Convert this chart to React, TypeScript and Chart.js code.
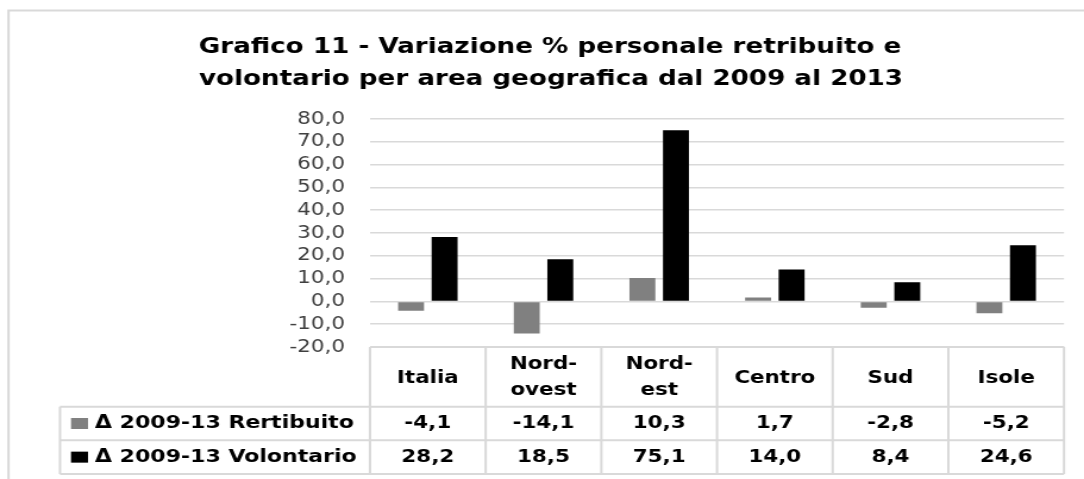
import React, { useEffect, useRef } from 'react';
import { Chart, registerables } from 'chart.js';

Chart.register(...registerables);

// ---- data ----
const categories: string[][] = [['Italia'], ['Nord-', 'ovest'], ['Nord-', 'est'], ['Centro'], ['Sud'], ['Isole']];
const retribuito: number[] = [-4.1, -14.1, 10.3, 1.7, -2.8, -5.2];
const volontario: number[] = [28.2, 18.5, 75.1, 14.0, 8.4, 24.6];
const seriesNames: string[] = ['Δ 2009-13 Rertibuito', 'Δ 2009-13 Volontario'];
const seriesColors: string[] = ['#808080', '#000000'];
const titleLines: string[] = [
  'Grafico 11 - Variazione % personale retribuito e',
  'volontario per area geografica dal 2009 al 2013',
];
const yMin = -20;
const yMax = 80;
const yStep = 10;

// ---- layout (the reference text is horizontally stretched) ----
const W = 911;
const H = 479;
const S = 1084 / W;
const X = (t: number) => t / S;
const fmt = (v: number) => v.toFixed(1).replace('.', ',');
const FONT = '"DejaVu Sans", sans-serif';
const LINE = '#d9d9d9';

const decorPlugin = {
  id: 'decor',
  beforeDraw(chart: any) {
    const ctx = chart.ctx;
    ctx.save();
    ctx.fillStyle = '#ffffff';
    ctx.fillRect(0, 0, chart.width, chart.height);
    ctx.strokeStyle = LINE;
    ctx.lineWidth = 2;
    ctx.strokeRect(X(8.5), 10.5, chart.width + 20, chart.height + 20);
    ctx.restore();
  },
  afterDraw(chart: any) {
    const ctx = chart.ctx;
    const xs = chart.scales.x;
    const area = chart.chartArea;
    const labels = chart.data.labels as string[][];
    const n = labels.length;
    const p0 = xs.getPixelForValue(0);
    const step = xs.getPixelForValue(1) - p0;
    const bounds: number[] = [];
    for (let i = 0; i <= n; i++) bounds.push(p0 + (i - 0.5) * step);

    const top = area.bottom;
    const r1 = 406.7;
    const r2 = 440.3;
    const r3 = 474;
    const legLeft = X(60);

    ctx.save();
    // title
    ctx.fillStyle = '#000000';
    ctx.font = `bold 22px ${FONT}`;
    ctx.textAlign = 'center';
    ctx.textBaseline = 'alphabetic';
    ctx.fillText(titleLines[0], X(550), 53);
    ctx.fillText(titleLines[1], X(551), 85);

    // table lines
    ctx.strokeStyle = LINE;
    ctx.lineWidth = 2;
    ctx.beginPath();
    ctx.moveTo(bounds[0], top);
    ctx.lineTo(bounds[n], top);
    for (const y of [r1, r2, r3]) {
      ctx.moveTo(legLeft, y);
      ctx.lineTo(bounds[n], y);
    }
    for (let i = 0; i <= n; i++) {
      ctx.moveTo(bounds[i], top);
      ctx.lineTo(bounds[i], r3);
    }
    ctx.moveTo(legLeft, r1);
    ctx.lineTo(legLeft, r3);
    ctx.stroke();

    // header
    ctx.fillStyle = '#000000';
    ctx.font = `bold 18px ${FONT}`;
    ctx.textAlign = 'center';
    ctx.textBaseline = 'middle';
    const hc = (top + r1) / 2;
    labels.forEach((lines, i) => {
      const cx = xs.getPixelForValue(i);
      if (lines.length === 1) {
        ctx.fillText(lines[0], cx, hc + 1);
      } else {
        ctx.fillText(lines[0], cx, hc - 13);
        ctx.fillText(lines[1], cx, hc + 13);
      }
    });

    // rows
    const rows = [
      { y: (r1 + r2) / 2, ds: chart.data.datasets[0] },
      { y: (r2 + r3) / 2, ds: chart.data.datasets[1] },
    ];
    rows.forEach((row) => {
      (row.ds.data as number[]).forEach((v, i) => {
        ctx.textAlign = 'center';
        ctx.fillText(fmt(v), xs.getPixelForValue(i), row.y);
      });
      ctx.fillStyle = row.ds.backgroundColor;
      ctx.fillRect(X(71), row.y - 5.5, X(88) - X(71), 11);
      ctx.fillStyle = '#000000';
      ctx.textAlign = 'left';
      ctx.font = `bold 18.5px ${FONT}`;
      ctx.fillText(row.ds.label, X(95), row.y);
      ctx.font = `bold 18px ${FONT}`;
    });
    ctx.restore();
  },
};

export default function App() {
  const ref = useRef<HTMLCanvasElement | null>(null);

  useEffect(() => {
    document.body.style.margin = '0';
    if (!ref.current) return;
    const chart = new Chart(ref.current, {
      type: 'bar',
      data: {
        labels: categories,
        datasets: [
          { label: seriesNames[0], data: retribuito, backgroundColor: seriesColors[0], borderWidth: 0 },
          { label: seriesNames[1], data: volontario, backgroundColor: seriesColors[1], borderWidth: 0 },
        ],
      },
      options: {
        responsive: false,
        animation: false,
        devicePixelRatio: 1,
        categoryPercentage: 0.58,
        barPercentage: 0.773,
        layout: { padding: { top: 119, bottom: H - 347, left: 0, right: W - X(1064) } },
        plugins: {
          legend: { display: false },
          title: { display: false },
          tooltip: { enabled: false },
        },
        scales: {
          x: { display: false },
          y: {
            min: yMin,
            max: yMax,
            border: { display: false },
            grid: { color: LINE, lineWidth: 1.5, drawTicks: false },
            ticks: {
              stepSize: yStep,
              autoSkip: false,
              padding: X(370) - X(345),
              color: '#404040',
              font: { family: FONT, size: 18 },
              callback: (v: any) => fmt(Number(v)),
            },
            afterFit: (s: any) => {
              s.width = X(370);
            },
          },
        },
      },
      plugins: [decorPlugin],
    } as any);
    return () => chart.destroy();
  }, []);

  return (
    <div style={{ width: W, height: H, transform: `scaleX(${S})`, transformOrigin: '0 0' }}>
      <canvas ref={ref} width={W} height={H} style={{ width: W, height: H, display: 'block' }} />
    </div>
  );
}
